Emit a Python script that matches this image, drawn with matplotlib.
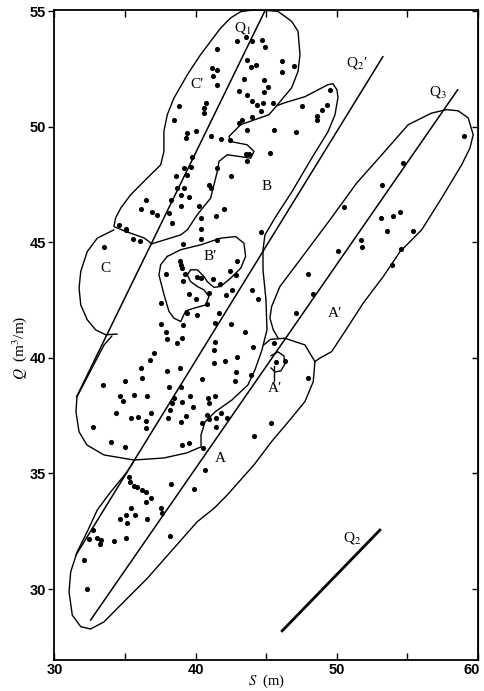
import matplotlib
matplotlib.use("Agg")
import matplotlib.pyplot as plt
import matplotlib.transforms as mtransforms
from matplotlib.ticker import MultipleLocator, FuncFormatter

plt.rcParams['mathtext.fontset'] = 'stix'

# ---------------- data (S in m, Q in m3/m) ----------------
dots_S = [42.95, 43.54, 44.01, 44.72, 44.88, 41.53, 43.66, 43.94, 44.25, 41.18, 41.53, 41.25,
          41.53, 43.42, 44.84, 43.07, 43.66, 44.01, 44.37, 44.79, 44.84, 38.82, 40.71, 40.59,
          40.59, 38.46, 43.07, 43.30, 43.66, 44.01, 44.60, 39.41, 39.29, 40.05, 41.06, 41.77,
          42.43, 43.54, 43.77, 43.66, 39.71, 39.17, 39.64, 39.41, 38.58, 42.48, 41.53, 38.70,
          39.17, 40.94, 41.06, 38.94, 39.53, 38.28, 38.94, 36.46, 36.10, 36.93, 37.28, 38.11,
          40.23, 41.41, 42.00, 38.35, 40.35, 34.57, 35.04,
          46.14, 46.14, 46.99, 45.14, 45.50, 47.50, 49.51, 49.28, 48.92, 48.57, 48.57, 45.57,
          47.08, 45.26, 50.53, 53.17, 54.66, 59.00, 53.12, 54.00, 54.47,
          53.52, 55.37, 51.71, 51.75, 50.10, 54.54, 53.88, 47.98, 48.28, 47.10, 45.57, 45.66,
          46.32, 47.98, 45.33,
          35.04, 35.58, 36.06, 33.51, 40.35, 44.60, 39.12, 40.35, 41.49, 38.89, 38.94, 39.05,
          39.24, 37.92, 39.12, 40.12, 40.35, 41.25, 41.72, 42.90, 42.83, 42.43, 42.59, 42.17,
          40.94, 40.02, 40.78, 39.55, 37.57, 39.41, 40.12, 39.12, 37.57, 37.87, 37.94, 38.65,
          39.01, 41.65, 41.37, 42.48, 43.49, 43.99, 44.41, 44.08, 41.34, 41.30, 41.30, 42.08,
          42.95, 42.83, 42.78, 43.89, 37.05, 36.74, 36.15, 36.22, 37.99, 38.89, 40.42, 34.97,
          33.41, 38.11, 38.94, 39.60, 39.83, 38.46, 38.35, 39.01, 40.90, 40.94, 41.34, 34.62,
          34.88, 35.63, 36.53, 34.38, 35.44, 35.91, 36.46, 36.81, 36.46, 38.18, 38.04, 38.94,
          39.29, 40.82, 40.42, 40.94, 41.41, 41.41, 41.77, 42.24, 44.13, 32.75, 34.03, 34.97,
          39.03, 39.53, 40.54,
          40.64, 38.27, 39.88, 35.28, 35.35, 35.63, 35.87, 36.22, 36.46, 36.81, 36.46, 35.44,
          35.04, 35.68, 35.11, 34.62, 36.53, 37.57, 37.64, 38.18, 32.75, 32.44, 33.03, 33.32,
          33.22, 34.21, 35.04, 32.09, 32.33]
dots_Q = [53.69, 53.87, 53.69, 53.76, 53.43, 53.36, 52.90, 52.57, 52.68, 52.54, 52.47, 52.18,
          51.82, 52.08, 52.03, 51.56, 51.38, 51.10, 50.95, 51.02, 51.50, 50.88, 51.02, 50.81,
          50.59, 50.30, 50.16, 50.30, 49.87, 50.40, 50.69, 49.72, 49.51, 49.83, 49.62, 49.48,
          49.44, 48.81, 48.81, 48.50, 48.67, 48.21, 48.24, 47.92, 47.85, 47.89, 48.21, 47.34,
          47.34, 47.49, 47.34, 47.06, 46.94, 46.84, 46.55, 46.84, 46.45, 46.33, 46.19, 46.26,
          46.58, 46.12, 46.45, 45.83, 46.04, 45.76, 45.58,
          52.83, 52.39, 52.61, 51.70, 51.02, 50.88, 51.60, 50.92, 50.73, 50.45, 50.30, 49.87,
          49.77, 48.86, 46.51, 47.46, 48.45, 49.58, 46.07, 46.12, 46.33,
          45.50, 45.50, 45.08, 44.78, 44.63, 44.70, 44.00, 43.62, 42.76, 41.96, 40.66, 39.84,
          39.87, 39.12, 37.17,
          45.54, 45.15, 45.07, 44.78, 45.58, 45.44, 44.92, 45.15, 45.11, 44.20, 44.03, 43.88,
          43.65, 43.62, 43.31, 43.52, 43.45, 43.42, 43.19, 44.20, 43.59, 43.74, 42.94, 42.70,
          42.80, 42.53, 42.32, 42.76, 42.37, 41.93, 41.86, 41.43, 41.46, 41.11, 40.82, 40.64,
          40.88, 41.93, 41.49, 41.46, 41.11, 42.94, 42.55, 40.48, 40.68, 40.35, 39.77, 39.87,
          40.02, 39.41, 39.01, 39.26, 40.20, 39.91, 39.55, 39.12, 39.45, 39.55, 39.09, 38.98,
          38.83, 38.72, 38.75, 38.37, 37.89, 38.25, 38.04, 38.07, 38.25, 38.04, 38.37, 38.37,
          38.15, 38.40, 38.33, 37.61, 37.39, 37.46, 37.27, 37.61, 36.96, 37.75, 37.39, 37.24,
          37.50, 37.53, 37.17, 37.35, 37.39, 37.00, 37.61, 37.42, 36.60, 37.03, 36.38, 36.16,
          36.21, 36.31, 36.12,
          35.15, 34.53, 34.31, 34.86, 34.65, 34.47, 34.40, 34.29, 34.21, 33.95, 33.78, 33.49,
          33.20, 33.20, 32.84, 33.03, 33.03, 33.52, 33.28, 32.31, 32.55, 32.17, 32.19, 32.12,
          31.93, 32.08, 32.22, 31.26, 30.00]

# straight lines (end points)
q1_S = [44.91, 31.57]
q1_Q = [55.02, 38.32]
q2p_S = [53.26, 31.52]
q2p_Q = [53.03, 31.47]
q3_S = [58.56, 32.56]
q3_Q = [51.60, 28.66]
q2_S = [46.13, 53.05]
q2_Q = [28.19, 32.55]

# region outlines
cp_S = [45.74, 46.80, 47.25, 47.39, 47.25, 46.80, 45.83, 44.91, 43.90, 43.19, 42.48, 41.77,
        40.35, 39.41, 38.46, 37.99, 37.75, 37.75, 37.52, 36.57, 35.40, 34.69, 34.33, 34.21,
        35.04, 36.34, 36.81]
cp_Q = [50.91, 51.69, 52.39, 53.12, 54.13, 54.56, 54.99, 55.04, 55.04, 54.98, 54.71, 54.27,
        53.12, 52.25, 51.24, 50.52, 49.80, 48.93, 48.35, 47.78, 47.06, 46.48, 46.05, 45.68,
        45.47, 45.19, 44.98]
b_S = [45.74, 46.32, 47.74, 49.37, 49.72, 50.01, 50.08, 49.87, 49.37, 48.24, 46.82, 45.62,
       44.91, 44.77, 44.77, 44.98, 45.05, 44.70, 44.20, 43.70, 42.57, 41.37, 40.66, 40.38,
       40.38, 39.38, 37.75, 35.63, 33.51, 32.30, 31.74, 31.52, 31.59, 32.51, 33.51, 34.07]
b_Q = [50.91, 51.04, 51.30, 51.82, 51.86, 51.60, 51.26, 50.52, 49.78, 48.66, 47.19, 46.06,
       45.32, 44.68, 43.81, 42.51, 41.21, 40.35, 39.48, 38.83, 38.18, 37.66, 37.23, 36.67,
       36.15, 35.89, 35.67, 35.58, 35.80, 36.23, 36.80, 37.66, 38.31, 39.39, 40.56, 40.95]
bw_S = [45.74, 45.19, 43.19, 42.36, 42.48, 43.65, 44.13, 43.90, 42.24, 41.65, 41.53, 41.06,
        40.11, 39.41, 38.94, 36.81]
bw_Q = [50.91, 50.52, 50.09, 49.58, 49.36, 49.22, 48.93, 48.64, 48.79, 48.50, 48.06, 46.91,
        46.19, 45.54, 45.32, 44.92]
c_S = [34.21, 33.03, 32.32, 31.86, 31.74, 31.86, 32.32, 32.92, 33.63, 34.45]
c_Q = [45.54, 45.18, 44.60, 43.74, 43.02, 42.29, 41.65, 41.21, 41.00, 41.03]
bp_S = [37.99, 38.94, 40.35, 41.77, 42.83, 43.42, 43.54, 43.19, 42.48, 41.77, 41.30, 40.82,
        40.59, 40.12, 39.64, 39.41, 39.64, 40.12, 40.59, 40.94, 40.71, 39.88, 39.29, 38.94,
        38.46, 38.11, 37.76, 37.40, 37.52, 37.99]
bp_Q = [44.39, 44.68, 44.89, 45.18, 45.25, 44.96, 44.39, 43.88, 43.45, 43.09, 43.05, 43.30,
        43.52, 43.81, 43.81, 43.59, 43.30, 43.09, 42.94, 42.66, 42.29, 42.15, 42.03, 41.57,
        41.72, 42.01, 42.73, 43.59, 44.03, 44.39]
ap_S = [48.45, 48.80, 49.63, 50.57, 51.87, 53.29, 54.47, 56.01, 57.42, 58.84, 59.43, 59.66,
        59.31, 58.60, 57.78, 56.71, 55.06, 53.29, 51.40, 49.51, 47.39, 45.97, 45.38, 45.26,
        45.50, 45.85]
ap_Q = [39.84, 39.99, 40.27, 41.14, 42.37, 43.52, 44.59, 45.54, 46.91, 48.35, 49.08, 49.65,
        50.38, 50.69, 50.74, 50.59, 50.09, 48.86, 47.56, 45.97, 44.24, 43.09, 42.22, 41.72,
        41.21, 40.85]
a_S = [44.80, 45.30, 46.32, 47.74, 48.45, 48.33, 47.74, 46.68, 45.38, 44.13, 42.24, 41.30,
       40.11, 38.23, 36.57, 34.69, 33.51, 32.56, 31.86, 31.26, 31.03, 31.15, 31.61, 32.32,
       33.03, 33.93, 35.13, 35.63]
a_Q = [40.55, 40.80, 40.85, 40.56, 39.84, 38.97, 38.11, 37.32, 36.38, 35.37, 34.07, 33.49,
       32.91, 31.61, 30.46, 29.31, 28.58, 28.27, 28.37, 28.87, 29.88, 30.75, 31.61, 32.48,
       33.42, 34.16, 35.06, 35.54]
loop_S = [45.33, 45.83, 46.25, 46.32, 46.04, 45.62, 45.33]
loop_Q = [40.09, 40.26, 40.09, 39.74, 39.44, 39.39, 39.57]
tail_S = [45.55, 45.55]
tail_Q = [39.66, 39.00]

labels = ["Q$_1$", "Q$_2$\u2032", "Q$_3$", "Q$_2$", "C\u2032", "B", "C", "B\u2032", "A\u2032", "A\u2032", "A"]
label_S = [43.30, 51.40, 57.18, 51.05, 40.07, 45.03, 33.63, 41.06, 49.87, 45.62, 41.77]
label_Q = [54.29, 52.76, 51.50, 32.19, 51.82, 47.42, 43.88, 44.39, 41.93, 38.69, 35.66]

# ---------------- drawing ----------------
fig = plt.figure(figsize=(4.84, 6.91), dpi=100)
ax = fig.add_axes([0.1126, 0.0449, 0.875, 0.9406])
ax.set_xlim(30, 60)
ax.set_ylim(26.93, 55.05)

lw = 1.0
for xs, ys in [(cp_S, cp_Q), (b_S, b_Q), (bw_S, bw_Q), (c_S, c_Q), (bp_S, bp_Q),
               (ap_S, ap_Q), (a_S, a_Q), (loop_S, loop_Q), (tail_S, tail_Q)]:
    ax.plot(xs, ys, color='black', lw=lw, solid_joinstyle='round', solid_capstyle='round')

for xs, ys in [(q1_S, q1_Q), (q2p_S, q2p_Q), (q3_S, q3_Q)]:
    ax.plot(xs, ys, color='black', lw=1.1)
ax.plot(q2_S, q2_Q, color='black', lw=2.0)

ax.plot(dots_S, dots_Q, 'o', color='black', markersize=3.7, markeredgewidth=0)

for t, xs, ys in zip(labels, label_S, label_Q):
    ax.text(xs, ys, t, fontsize=11, ha='center', va='center',
            family=['Liberation Serif', 'DejaVu Serif'])

# axes styling
for sp in ax.spines.values():
    sp.set_linewidth(1.3)
ax.xaxis.set_major_locator(MultipleLocator(5))
ax.xaxis.set_major_formatter(FuncFormatter(lambda v, p: f"{int(round(v))}" if round(v) % 10 == 0 else ""))
ax.yaxis.set_major_locator(MultipleLocator(5))
ax.yaxis.set_major_formatter(FuncFormatter(lambda v, p: f"{int(round(v))}"))
ax.tick_params(axis='x', direction='in', length=5, width=1.0, pad=2, top=True,
               labelsize=10.5)
ax.tick_params(axis='y', direction='out', length=4, width=1.0, pad=2, labelsize=10.5)

ax2 = ax.secondary_yaxis('right')
ax2.yaxis.set_major_locator(MultipleLocator(5))
ax2.tick_params(direction='in', length=4, width=1.0, labelright=False)

ax.set_xlabel("$S$  (m)", fontsize=10.5, family=['Liberation Serif', 'DejaVu Serif'], labelpad=-3)
ax.set_ylabel("$Q$  (m$^3$/m)", fontsize=11, family=['Liberation Serif', 'DejaVu Serif'])
ax.yaxis.set_label_coords(-0.06, 0.48)

fig.canvas.draw()
for lab in ax.get_xticklabels() + ax.get_yticklabels():
    lab.set_family('Liberation Sans')
    lab.set_fontweight('bold')
shift = mtransforms.ScaledTranslation(-6 / 100, 0, fig.dpi_scale_trans)
for lab in ax.get_xticklabels():
    if lab.get_text() == "60":
        lab.set_transform(lab.get_transform() + shift)

fig.savefig("out.png", dpi=100)
